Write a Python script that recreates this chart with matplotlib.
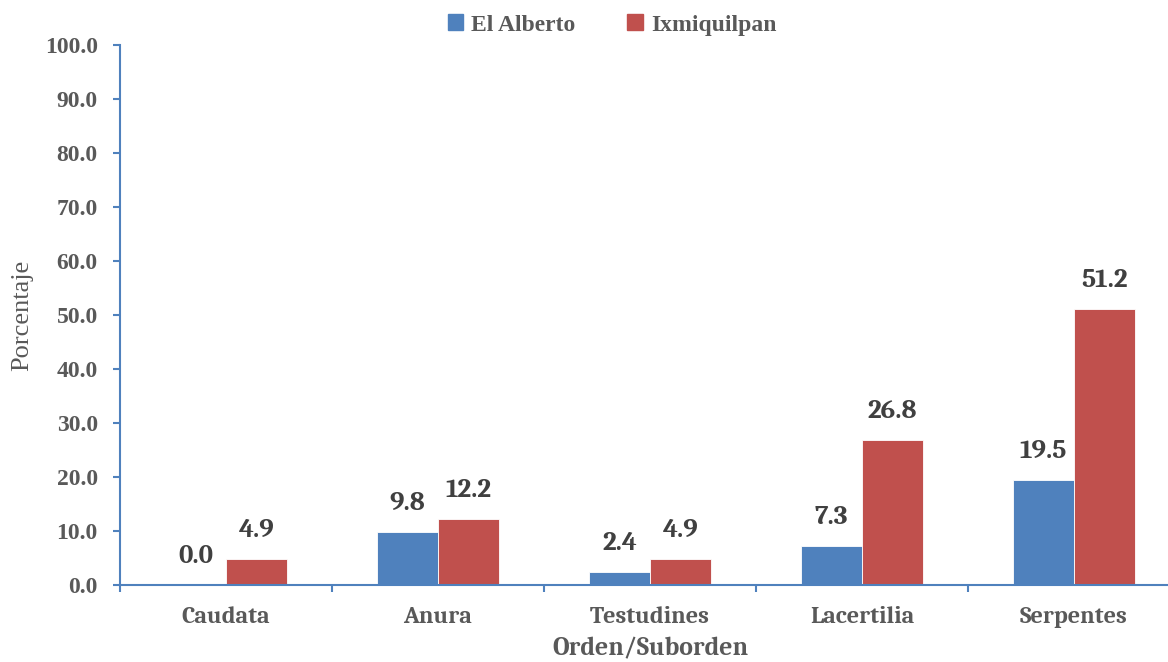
import matplotlib
matplotlib.use("Agg")
import matplotlib.pyplot as plt
import numpy as np
from matplotlib.patches import Patch

categories = ["Caudata", "Anura", "Testudines", "Lacertilia", "Serpentes"]
el_alberto = [0.0, 9.8, 2.4, 7.3, 19.5]
ixmiquilpan = [4.9, 12.2, 4.9, 26.8, 51.2]
series_names = ["El Alberto", "Ixmiquilpan"]
y_ticks = [0, 10, 20, 30, 40, 50, 60, 70, 80, 90, 100]

blue = "#4F81BD"
red = "#C0504D"
grey = "#595959"
dark = "#404040"
times = "Liberation Serif"
cambria = "Caladea"

fig = plt.figure(figsize=(11.68, 6.62), dpi=100)
ax = fig.add_axes([120 / 1168, (662 - 585) / 662, (1180 - 120) / 1168, (585 - 45) / 662])

x = np.arange(len(categories))
w = 0.288
b1 = ax.bar(x - w / 2, el_alberto, w, color=blue, edgecolor="white", linewidth=0.6)
b2 = ax.bar(x + w / 2, ixmiquilpan, w, color=red, edgecolor="white", linewidth=0.6)

for bars, vals in ((b1, el_alberto), (b2, ixmiquilpan)):
    for rect, v in zip(bars, vals):
        ax.annotate(f"{v:.1f}", (rect.get_x() + rect.get_width() / 2, v),
                    xytext=(0, 11.5), textcoords="offset points",
                    ha="center", va="bottom", fontsize=19.5, fontweight="bold",
                    fontfamily=cambria, color=dark)

ax.set_xlim(-0.5, len(categories) - 0.5)
ax.set_ylim(0, 100)
ax.set_yticks(y_ticks)
ax.set_yticklabels([f"{t:.1f}" for t in y_ticks], fontfamily=times,
                   fontweight="bold", fontsize=17, color=grey)

# boundaries get tick marks, category names sit on unmarked minor ticks
ax.set_xticks(np.arange(len(categories) + 1) - 0.5)
ax.set_xticklabels([])
ax.set_xticks(x, minor=True)
ax.set_xticklabels(categories, minor=True, fontfamily=cambria,
                   fontweight="bold", fontsize=17.5, color=grey)
ax.tick_params(axis="x", which="major", length=5, width=1.5, color=blue, direction="out")
ax.tick_params(axis="x", which="minor", length=0, pad=15)
ax.tick_params(axis="y", length=5, width=1.5, color=blue, direction="out", pad=11)

for s in ("top", "right"):
    ax.spines[s].set_visible(False)
for s in ("left", "bottom"):
    ax.spines[s].set_color(blue)
    ax.spines[s].set_linewidth(1.5)

ax.set_ylabel("Porcentaje", fontfamily=times, fontsize=19, color=grey, labelpad=8)
fig.text(650 / 1168, 1 - 649 / 662, "Orden/Suborden", ha="center", va="center",
         fontfamily=cambria, fontweight="bold", fontsize=18.5, color=grey)

handles = [Patch(color=blue), Patch(color=red)]
leg = fig.legend(handles, series_names, loc="center", bbox_to_anchor=(612 / 1168, 1 - 25 / 662),
                 ncol=2, frameon=False, handlelength=0.65, handleheight=0.65,
                 handletextpad=0.35, columnspacing=2.2,
                 prop={"family": times, "weight": "bold", "size": 17})
for t in leg.get_texts():
    t.set_color(grey)

fig.savefig("out.png", dpi=100)
